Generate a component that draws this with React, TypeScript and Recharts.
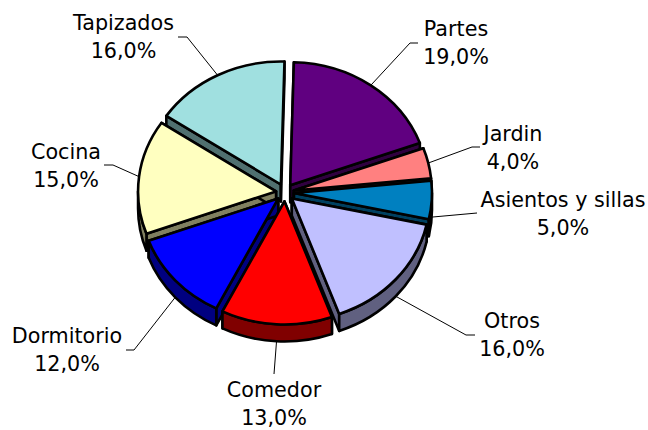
import { PieChart, Pie } from 'recharts';

const categories = ['Partes', 'Jardin', 'Asientos y sillas', 'Otros', 'Comedor', 'Dormitorio', 'Cocina', 'Tapizados'];
const shares = [19, 4, 5, 16, 13, 12, 15, 16];
const topColors = ['#600080', '#FF8080', '#0080C0', '#C0C0FF', '#FF0000', '#0000FF', '#FFFFC0', '#A0E0E0'];
const wallColors = ['#300040', '#804040', '#004060', '#606080', '#800000', '#000080', '#808060', '#507070'];

const slices = categories.map((name, i) => ({ name, value: shares[i], fill: topColors[i] }));

// label centre, first baseline and the leader line's elbow
const labelLayout = [
  { x: 456, y: 36, end: [410, 43], tail: [418, 43] },
  { x: 513, y: 141, end: [472, 147], tail: [480, 147] },
  { x: 563, y: 207, end: [477, 213] },
  { x: 512, y: 328, end: [466, 335], tail: [475, 335] },
  { x: 274, y: 397, end: [274, 374] },
  { x: 67, y: 343, end: [134, 350], tail: [126, 350] },
  { x: 66, y: 159, end: [113, 165], tail: [104, 165] },
  { x: 123.5, y: 30, end: [187, 37], tail: [178, 37] },
];

const WIDTH = 648;
const HEIGHT = 430;
const CX = 285;
const CY = 192.5;
const RX = 138;
const RY = 123;
const DEPTH = 17;
const EXPLODE = 9;
const START = 88.5;
const END = -271.5;
const LINE_GAP = 28;

const rad = (d: number) => (d * Math.PI) / 180;

// clockwise degrees from the top, so the lower half is 90..270
function slicePoint(cx: number, cy: number, t: number, rx = RX, ry = RY) {
  return { x: cx + rx * Math.sin(rad(t)), y: cy - ry * Math.cos(rad(t)) };
}

function explodedCentre(cx: number, cy: number, mid: number) {
  return slicePoint(cx, cy, mid, EXPLODE, EXPLODE);
}

function Slice3D(props: any) {
  const t0 = 90 - props.startAngle;
  const t1 = 90 - props.endAngle;
  const mid = (t0 + t1) / 2;
  const c = explodedCentre(props.cx, props.cy, mid);
  const a = slicePoint(c.x, c.y, t0);
  const b = slicePoint(c.x, c.y, t1);
  const arcFlag = t1 - t0 > 180 ? 1 : 0;
  const wall = wallColors[props.index];
  const line = { stroke: '#000', strokeWidth: 2.6, strokeLinejoin: 'round' as const };
  const face = (p: { x: number; y: number }) =>
    `M${c.x},${c.y}L${p.x},${p.y}L${p.x},${p.y + DEPTH}L${c.x},${c.y + DEPTH}Z`;
  const w0 = Math.max(t0, 90);
  const w1 = Math.min(t1, 270);
  let outer = '';
  if (w1 > w0) {
    const p = slicePoint(c.x, c.y, w0);
    const q = slicePoint(c.x, c.y, w1);
    outer = `M${p.x},${p.y}A${RX},${RY} 0 0 1 ${q.x},${q.y}L${q.x},${q.y + DEPTH}A${RX},${RY} 0 0 0 ${p.x},${p.y + DEPTH}Z`;
  }
  return (
    <g>
      <path d={face(a)} fill={wall} {...line} />
      <path d={face(b)} fill={wall} {...line} />
      {outer && <path d={outer} fill={wall} {...line} />}
      <path
        d={`M${c.x},${c.y}L${a.x},${a.y}A${RX},${RY} 0 ${arcFlag} 1 ${b.x},${b.y}Z`}
        fill={props.fill}
        {...line}
      />
    </g>
  );
}

function SliceLabel(props: any) {
  const i = props.index;
  const box = labelLayout[i];
  const t = 90 - props.midAngle;
  const c = explodedCentre(props.cx, props.cy, t);
  const p = slicePoint(c.x, c.y, t);
  const lower = Math.cos(rad(t)) < -0.05;
  const pts = [[p.x, p.y + (lower ? DEPTH : 0)], box.end];
  if (box.tail) pts.push(box.tail);
  return (
    <g>
      <polyline points={pts.map((q) => q.join(',')).join(' ')} fill="none" stroke="#000" strokeWidth={1} />
      <text x={box.x} y={box.y} textAnchor="middle" fontFamily="DejaVu Sans" fontSize={20.7} fill="#000">
        {categories[i]}
      </text>
      <text x={box.x} y={box.y + LINE_GAP} textAnchor="middle" fontFamily="DejaVu Sans" fontSize={20.7} fill="#000">
        {shares[i].toFixed(1).replace('.', ',')}%
      </text>
    </g>
  );
}

// back slices first, so the front ones cover their walls
const total = shares.reduce((s, v) => s + v, 0);
let run = 90 - START;
const mids = shares.map((v) => {
  const m = run + (v / total) * 180;
  run += (v / total) * 360;
  return m;
});
const drawOrder = shares.map((_, i) => i).sort((p, q) => Math.cos(rad(mids[q])) - Math.cos(rad(mids[p])));

export default function App() {
  return (
    <div style={{ position: 'absolute', left: 0, top: 0, width: WIDTH, height: HEIGHT, background: '#fff' }}>
      <PieChart width={WIDTH} height={HEIGHT} margin={{ top: 0, right: 0, bottom: 0, left: 0 }}>
        {drawOrder.map((idx, n) => (
          <Pie
            key={idx}
            data={slices}
            dataKey="value"
            nameKey="name"
            cx={CX}
            cy={CY}
            innerRadius={0}
            outerRadius={RX}
            startAngle={START}
            endAngle={END}
            isAnimationActive={false}
            shape={(props: any) => (props.index === idx ? <Slice3D {...props} /> : <g />)}
            label={n === drawOrder.length - 1 ? (props: any) => <SliceLabel {...props} /> : false}
            labelLine={false}
          />
        ))}
      </PieChart>
    </div>
  );
}
